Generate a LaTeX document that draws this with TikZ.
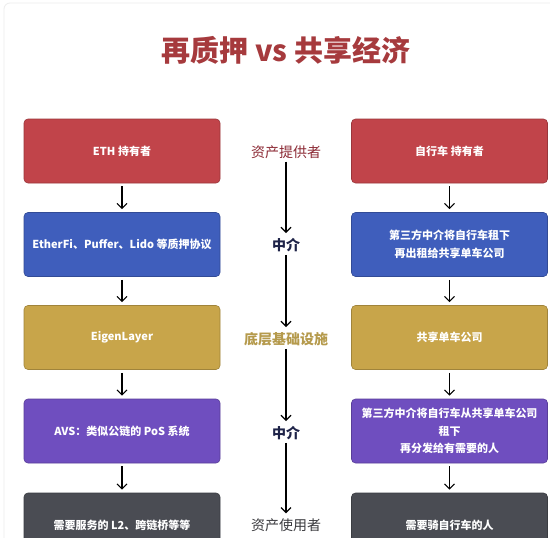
\documentclass[tikz,border=0pt]{standalone}
\usepackage{fontspec}
\setmainfont{Noto Sans CJK SC}
\usetikzlibrary{arrows.meta}
\definecolor{cred}{HTML}{C1444A}
\definecolor{cblue}{HTML}{3F5EBC}
\definecolor{cgold}{HTML}{C8A54A}
\definecolor{cpurple}{HTML}{6F4EBF}
\definecolor{cgray}{HTML}{4A4C53}
\definecolor{ctitle}{HTML}{A63A3D}
\definecolor{lred}{HTML}{8C2A35}
\definecolor{lnavy}{HTML}{1E2348}
\definecolor{lgold}{HTML}{B59A4C}
\definecolor{lgray}{HTML}{3A3A3E}
\begin{document}
\begin{tikzpicture}[x=1pt,y=-1pt,
  box/.style={rounded corners=4pt, minimum width=196pt, minimum height=64pt,
    text=white, font=\bfseries\fontsize{11}{17.5}\selectfont, align=center,
    fill=#1, draw=#1!80!black, line width=0.6pt, inner sep=2pt},
  lab/.style={text=#1, font=\fontsize{14}{16}\selectfont, inner sep=2pt},
  blab/.style={text=#1, font=\bfseries\fontsize{14}{16}\selectfont, inner sep=2pt},
  arr/.style={-{Straight Barb[length=5pt,width=10pt]}, line width=1.1pt, black},
  ttl/.style={text=ctitle, font=\bfseries\fontsize{29}{32}\selectfont}
]
\clip (0,0) rectangle (550,538);
\fill[white] (0,0) rectangle (550,538);
\draw[black!7, rounded corners=6pt, line width=0.8pt] (4,3) rectangle (600,600);
\node[ttl] (title) at (286,50) {再质押 vs 共享经济};

\node[box=cred]    (l1) at (122,151) {ETH 持有者};
\node[box=cblue]   (l2) at (122,244.5) {EtherFi、Puffer、Lido 等质押协议};
\node[box=cgold]   (l3) at (122,337.5) {EigenLayer};
\node[box=cpurple] (l4) at (122,431) {AVS：类似公链的 PoS 系统};
\node[box=cgray]   (l5) at (122,525) {需要服务的 L2、跨链桥等等};

\node[box=cred]    (r1) at (449.5,151) {自行车 持有者};
\node[box=cblue]   (r2) at (449.5,244.5) {第三方中介将自行车租下\\再出租给共享单车公司};
\node[box=cgold]   (r3) at (449.5,337.5) {共享单车公司};
\node[box=cpurple] (r4) at (449.5,431) {第三方中介将自行车从共享单车公司\\租下\\再分发给有需要的人};
\node[box=cgray]   (r5) at (449.5,525) {需要骑自行车的人};

\node[lab=lred]   (m1) at (286,152) {资产提供者};
\node[blab=lnavy] (m2) at (286,245) {中介};
\node[blab=lgold] (m3) at (286,339) {底层基础设施};
\node[blab=lnavy] (m4) at (286,433) {中介};
\node[lab=lgray]  (m5) at (286,525) {资产使用者};

\foreach \a/\b in {l1/l2,l2/l3,l3/l4,l4/l5,r1/r2,r2/r3,r3/r4,r4/r5}
  \draw[arr, shorten <=3pt, shorten >=3pt] (\a) -- (\b);
\foreach \a/\b in {m1/m2,m2/m3,m3/m4,m4/m5}
  \draw[arr, shorten <=1pt, shorten >=3pt] (\a) -- (\b);
\end{tikzpicture}
\end{document}
